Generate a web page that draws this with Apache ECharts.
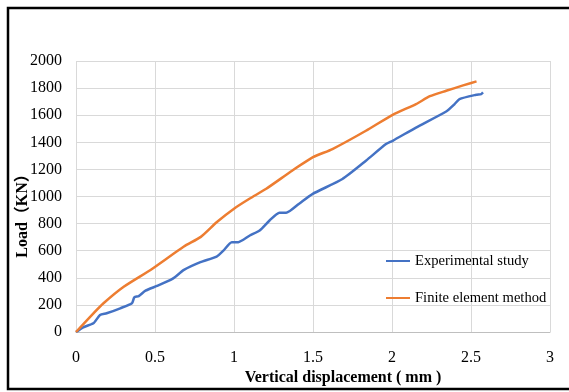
<!DOCTYPE html>
<html>
<head>
<meta charset="utf-8">
<script src="https://cdn.jsdelivr.net/npm/echarts@6/dist/echarts.min.js"></script>
<style>
html,body{margin:0;padding:0;background:#fff;}
#chart{width:569px;height:392px;}
</style>
</head>
<body>
<div id="chart"></div>
<script>
const xTicks = [0, 0.5, 1, 1.5, 2, 2.5, 3];
const yTicks = [0, 200, 400, 600, 800, 1000, 1200, 1400, 1600, 1800, 2000];
const seriesNames = ['Experimental study', 'Finite element method'];
const xTitle = 'Vertical displacement ( mm )';
const yTitle = 'Load（KN）';

const expDisp = [0, 0.046, 0.11, 0.152, 0.194, 0.28, 0.354, 0.369, 0.397, 0.44, 0.513, 0.61, 0.683, 0.7875, 0.89, 0.933, 0.986, 1.027, 1.10, 1.1625, 1.225, 1.2875, 1.33, 1.41, 1.496, 1.686, 1.835, 1.962, 2.004, 2.152, 2.343, 2.396, 2.427, 2.533, 2.565, 2.576];
const expLoad = [0, 35, 64, 125, 138, 175, 212, 256, 265, 305, 340, 392, 458, 515, 557, 601, 663, 663, 712, 749, 823, 880, 880, 945, 1018, 1129, 1264, 1387, 1411, 1509, 1627, 1682, 1719, 1751, 1756, 1768];

const femDisp = [0, 0.1, 0.174, 0.302, 0.474, 0.683, 0.79, 0.89, 1.0, 1.10, 1.204, 1.37, 1.5, 1.623, 1.835, 2.004, 2.152, 2.24, 2.343, 2.45, 2.535];
const femLoad = [0, 125, 212, 334, 460, 631, 702, 810, 910, 985, 1057, 1192, 1290, 1350, 1485, 1603, 1682, 1740, 1780, 1820, 1850];

const pair = (xs, ys) => xs.map((x, i) => [x, ys[i]]);
const serif = '"Liberation Serif", "Times New Roman", serif';
const serifCJK = '"Liberation Serif", "Noto Sans CJK SC", serif';

const chart = echarts.init(document.getElementById('chart'));
chart.setOption({
  backgroundColor: '#ffffff',
  animation: false,
  grid: { left: 76, right: 19, top: 61, bottom: 60, containLabel: false },
  xAxis: {
    type: 'value',
    min: xTicks[0], max: xTicks[xTicks.length - 1], interval: 0.5,
    axisLine: { show: true, lineStyle: { color: '#bfbfbf', width: 1 } },
    axisTick: { show: false },
    axisLabel: { color: '#000', fontFamily: serif, fontSize: 16, margin: 18, formatter: v => String(v) },
    splitLine: { show: true, lineStyle: { color: '#d9d9d9', width: 1 } }
  },
  yAxis: {
    type: 'value',
    min: yTicks[0], max: yTicks[yTicks.length - 1], interval: 200,
    axisLine: { show: false },
    axisTick: { show: false },
    axisLabel: { color: '#000', fontFamily: serif, fontSize: 16, margin: 14, formatter: v => String(v) },
    splitLine: { show: true, lineStyle: { color: '#d9d9d9', width: 1 } }
  },
  legend: {
    orient: 'vertical',
    left: 381, top: 248,
    icon: 'rect',
    itemWidth: 24, itemHeight: 2, itemGap: 21,
    textStyle: { color: '#000', fontFamily: serif, fontSize: 14.6, lineHeight: 16 },
    data: seriesNames
  },
  series: [
    {
      name: seriesNames[0], type: 'line', data: pair(expDisp, expLoad),
      symbol: 'none', smooth: 0.2,
      lineStyle: { color: '#4472C4', width: 2.5 }, itemStyle: { color: '#4472C4' }
    },
    {
      name: seriesNames[1], type: 'line', data: pair(femDisp, femLoad),
      symbol: 'none', smooth: 0.2,
      lineStyle: { color: '#ED7D31', width: 2.5 }, itemStyle: { color: '#ED7D31' }
    }
  ],
  graphic: [
    {
      type: 'polyline', silent: true,
      shape: { points: [[620, 8], [8, 8], [8, 389], [620, 389]] },
      style: { fill: 'none', stroke: '#000', lineWidth: 2.5 }
    },
    {
      type: 'text', x: 343, y: 378,
      style: { text: xTitle, font: 'bold 16px ' + serif, fill: '#000', align: 'center', verticalAlign: 'middle' }
    },
    {
      type: 'text', x: 23, y: 212, rotation: Math.PI / 2,
      style: { text: yTitle, font: 'bold 16px ' + serifCJK, fill: '#000', align: 'center', verticalAlign: 'middle' }
    }
  ]
});
</script>
</body>
</html>
